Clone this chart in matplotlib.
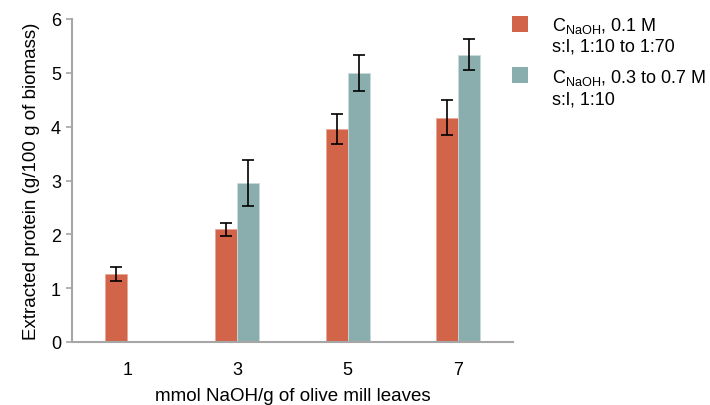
import matplotlib
matplotlib.use("Agg")
import matplotlib.pyplot as plt
from matplotlib.patches import Rectangle
import numpy as np

plt.rcParams['font.family'] = ['Liberation Sans', 'DejaVu Sans']
plt.rcParams['mathtext.fontset'] = 'custom'
plt.rcParams['mathtext.rm'] = 'Liberation Sans'
plt.rcParams['mathtext.it'] = 'Liberation Sans'

categories = ["1", "3", "5", "7"]
series1_vals = [1.26, 2.09, 3.96, 4.17]
series1_err = [0.13, 0.12, 0.28, 0.33]
series2_vals = [np.nan, 2.96, 5.00, 5.34]
series2_err = [np.nan, 0.43, 0.33, 0.28]
series1_lines = ["C$_{\\mathregular{NaOH}}$, 0.1 M", "s:l, 1:10 to 1:70"]
series2_lines = ["C$_{\\mathregular{NaOH}}$, 0.3 to 0.7 M", "s:l, 1:10"]
yticks = [0, 1, 2, 3, 4, 5, 6]

red = "#D2644A"
teal = "#8AAEAE"
gray = "#A6A6A6"

W, H = 710, 406
fig = plt.figure(figsize=(W/100, H/100), dpi=100)
ax = fig.add_axes([72/W, 1-343/H, (513-72)/W, (343-20)/H])

x = np.arange(len(categories))
w = 0.2
ax.bar(x - w/2, series1_vals, w, color=red, edgecolor="#E8A898", linewidth=0.6)
ax.bar(x + w/2, series2_vals, w, color=teal, edgecolor="#C8DADA", linewidth=0.6)
ax.errorbar(x - w/2, series1_vals, yerr=series1_err, fmt='none', ecolor='black', elinewidth=1.2, capsize=4.5, capthick=1.2)
ax.errorbar(x + w/2, series2_vals, yerr=series2_err, fmt='none', ecolor='black', elinewidth=1.2, capsize=4.5, capthick=1.2)

ax.set_xlim(-0.5, len(categories) - 0.5)
ax.set_ylim(0, 6)
ax.set_yticks(yticks)
ax.set_xticks(x)
ax.set_xticklabels(categories)
for s in ['top', 'right']:
    ax.spines[s].set_visible(False)
for s in ['left', 'bottom']:
    ax.spines[s].set_color(gray)
    ax.spines[s].set_linewidth(1.5)
ax.tick_params(axis='y', direction='out', length=4.3, color=gray, width=1.2, labelsize=13, pad=3.6)
ax.tick_params(axis='x', length=0, labelsize=13, pad=14)
ax.set_xlabel("mmol NaOH/g of olive mill leaves", fontsize=13.5, labelpad=6)
ax.set_ylabel("Extracted protein (g/100 g of biomass)", fontsize=13.5, labelpad=8)

# manual legend
def fy(py):
    return 1 - py / H

for color, lines, sq_top, baselines in [
    (red, series1_lines, 17, (31, 52)),
    (teal, series2_lines, 68, (83, 105)),
]:
    fig.patches.append(Rectangle((512/W, fy(sq_top + 16)), 16/W, 16/H,
                                 transform=fig.transFigure, facecolor=color,
                                 edgecolor='none'))
    for line, b in zip(lines, baselines):
        fig.text(552/W, fy(b), line, fontsize=13, va='baseline', ha='left')

fig.savefig("out.png", dpi=100)
